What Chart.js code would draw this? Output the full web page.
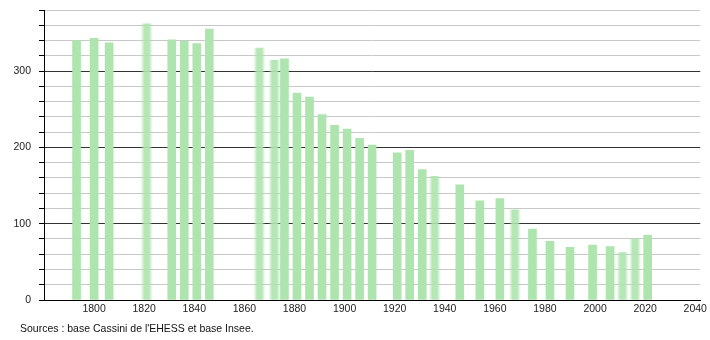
<!DOCTYPE html>
<html>
<head>
<meta charset="utf-8">
<script src="https://cdn.jsdelivr.net/npm/chart.js@4"></script>
<style>
  body { margin: 0; background: #fff; }
  #wrap { position: relative; width: 710px; height: 340px; }
  #source { position: absolute; left: 20px; top: 322px; font: 10.5px "Liberation Sans", Arial, sans-serif; color: #111; }
</style>
</head>
<body>
<div id="wrap">
  <canvas id="myChart" width="710" height="340"></canvas>
  <div id="source">Sources : base Cassini de l'EHESS et base Insee.</div>
</div>
<script>
// Années de recensement et population
let annees = [1793, 1800, 1806, 1821, 1831, 1836, 1841, 1846, 1866, 1872, 1876, 1881, 1886, 1891, 1896, 1901, 1906, 1911,
    1921, 1926, 1931, 1936, 1946, 1954, 1962, 1968, 1975, 1982, 1990, 1999, 2006, 2011, 2016, 2021];
let population = [340, 343, 337, 362, 341, 339, 336, 355, 330, 314, 316, 271, 266, 243, 229, 224, 212, 203,
    193, 196, 171, 162, 151, 130, 133, 118, 93, 77, 69, 72, 70, 62, 80, 85];
// barres floues dans l'original
let anneesFloues = [1821, 1866, 1872, 1936, 1968, 2011, 2016];
let xTicks = [1800, 1820, 1840, 1860, 1880, 1900, 1920, 1940, 1960, 1980, 2000, 2020, 2040];
let yTicks = [0, 20, 40, 60, 80, 100, 120, 140, 160, 180, 200, 220, 240, 260, 280, 300, 320, 340, 360, 380];

let vert = '#aee4ae';
let nettes = [];
let floues = [];
for (let i = 0; i < annees.length; i++) {
    let point = { x: annees[i], y: population[i] };
    if (anneesFloues.includes(annees[i])) {
        floues.push(point);
    } else {
        nettes.push(point);
    }
}

function degrade(context) {
    let chart = context.chart;
    if (!chart.chartArea || context.raw === undefined) return vert;
    let px = chart.scales.x.getPixelForValue(context.raw.x);
    let g = chart.ctx.createLinearGradient(px - 6, 0, px + 6, 0);
    g.addColorStop(0, 'rgba(174,228,174,0)');
    g.addColorStop(0.3, 'rgba(174,228,174,0.9)');
    g.addColorStop(0.7, 'rgba(174,228,174,0.9)');
    g.addColorStop(1, 'rgba(174,228,174,0)');
    return g;
}

const police = { family: '"Liberation Sans", Arial, sans-serif', size: 10.5 };

const ctx = document.getElementById('myChart').getContext('2d');
const myChart = new Chart(ctx, {
    type: 'bar',
    data: {
        datasets: [
            { data: nettes, backgroundColor: vert, barThickness: 8, grouped: false },
            { data: floues, backgroundColor: degrade, barThickness: 12, grouped: false }
        ]
    },
    options: {
        responsive: false,
        animation: false,
        layout: { padding: { top: 10, right: 9, left: 0, bottom: 0 } },
        plugins: { legend: { display: false }, tooltip: { enabled: false } },
        scales: {
            x: {
                type: 'linear',
                offset: false,
                min: 1780,
                max: 2042,
                afterBuildTicks: (scale) => {
                    scale.ticks = xTicks.map(v => ({ value: v }));
                },
                afterFit: (scale) => { scale.height = 40; },
                grid: { display: false, drawTicks: false, offset: false },
                border: { display: true, color: '#000', width: 1 },
                ticks: {
                    color: '#222', font: police, padding: 3, maxRotation: 0, autoSkip: false,
                    callback: (v) => String(v)
                }
            },
            y: {
                min: 0,
                max: 380,
                afterBuildTicks: (scale) => {
                    scale.ticks = yTicks.map(v => ({ value: v }));
                },
                afterFit: (scale) => {
                    scale.width = 44;
                    scale.paddingTop = 0;
                    scale.paddingBottom = 0;
                },
                ticks: {
                    autoSkip: false,
                    color: '#222',
                    font: police,
                    padding: 8,
                    callback: (v) => (v % 100 === 0 ? String(v) : '')
                },
                grid: {
                    color: (c) => (c.tick && c.tick.value % 100 === 0 ? '#333' : '#c8c8c8'),
                    tickColor: '#000',
                    tickLength: 5,
                    drawTicks: true
                },
                border: { display: true, color: '#000', width: 1 }
            }
        }
    }
});
</script>
</body>
</html>
